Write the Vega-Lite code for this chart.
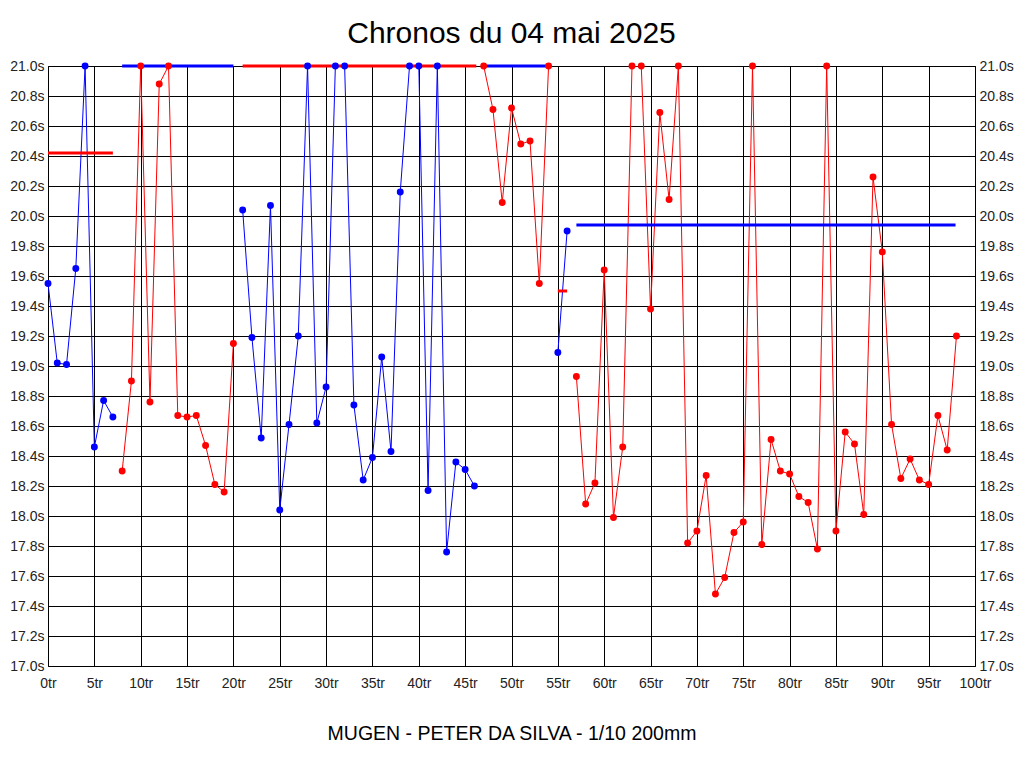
{
  "$schema": "https://vega.github.io/schema/vega-lite/v6.json",
  "width": 927,
  "height": 600,
  "autosize": {"type": "none"},
  "padding": {"left": 48, "top": 66, "right": 49, "bottom": 102},
  "background": "white",
  "title": {"text": "Chronos du 04 mai 2025", "font": "Liberation Sans", "fontSize": 30, "fontWeight": "normal", "color": "black", "offset": 10, "anchor": "middle"},
  "config": {
    "view": {"stroke": "black", "strokeWidth": 1},
    "axis": {"labelFont": "Liberation Sans", "labelFontSize": 14, "labelColor": "#222", "gridColor": "black", "gridOpacity": 1, "gridWidth": 1, "ticks": false, "domain": false, "labelFlush": false, "labelOverlap": false, "titleFont": "Liberation Sans", "titleFontWeight": "normal", "titleColor": "black"}
  },
  "datasets": {
    "laps": [
      {"lap": 0, "time": 19.55, "seg": 1, "color": "#0000ff"},
      {"lap": 1, "time": 19.02, "seg": 1, "color": "#0000ff"},
      {"lap": 2, "time": 19.01, "seg": 1, "color": "#0000ff"},
      {"lap": 3, "time": 19.65, "seg": 1, "color": "#0000ff"},
      {"lap": 4, "time": 21.0, "seg": 1, "color": "#0000ff"},
      {"lap": 5, "time": 18.46, "seg": 1, "color": "#0000ff"},
      {"lap": 6, "time": 18.77, "seg": 1, "color": "#0000ff"},
      {"lap": 7, "time": 18.66, "seg": 1, "color": "#0000ff"},
      {"lap": 8, "time": 18.30, "seg": 2, "color": "#ff0000"},
      {"lap": 9, "time": 18.90, "seg": 2, "color": "#ff0000"},
      {"lap": 10, "time": 21.0, "seg": 2, "color": "#ff0000"},
      {"lap": 11, "time": 18.76, "seg": 2, "color": "#ff0000"},
      {"lap": 12, "time": 20.88, "seg": 2, "color": "#ff0000"},
      {"lap": 13, "time": 21.0, "seg": 2, "color": "#ff0000"},
      {"lap": 14, "time": 18.67, "seg": 2, "color": "#ff0000"},
      {"lap": 15, "time": 18.66, "seg": 2, "color": "#ff0000"},
      {"lap": 16, "time": 18.67, "seg": 2, "color": "#ff0000"},
      {"lap": 17, "time": 18.47, "seg": 2, "color": "#ff0000"},
      {"lap": 18, "time": 18.21, "seg": 2, "color": "#ff0000"},
      {"lap": 19, "time": 18.16, "seg": 2, "color": "#ff0000"},
      {"lap": 20, "time": 19.15, "seg": 2, "color": "#ff0000"},
      {"lap": 21, "time": 20.04, "seg": 3, "color": "#0000ff"},
      {"lap": 22, "time": 19.19, "seg": 3, "color": "#0000ff"},
      {"lap": 23, "time": 18.52, "seg": 3, "color": "#0000ff"},
      {"lap": 24, "time": 20.07, "seg": 3, "color": "#0000ff"},
      {"lap": 25, "time": 18.04, "seg": 3, "color": "#0000ff"},
      {"lap": 26, "time": 18.61, "seg": 3, "color": "#0000ff"},
      {"lap": 27, "time": 19.20, "seg": 3, "color": "#0000ff"},
      {"lap": 28, "time": 21.0, "seg": 3, "color": "#0000ff"},
      {"lap": 29, "time": 18.62, "seg": 3, "color": "#0000ff"},
      {"lap": 30, "time": 18.86, "seg": 3, "color": "#0000ff"},
      {"lap": 31, "time": 21.0, "seg": 3, "color": "#0000ff"},
      {"lap": 32, "time": 21.0, "seg": 3, "color": "#0000ff"},
      {"lap": 33, "time": 18.74, "seg": 3, "color": "#0000ff"},
      {"lap": 34, "time": 18.24, "seg": 3, "color": "#0000ff"},
      {"lap": 35, "time": 18.39, "seg": 3, "color": "#0000ff"},
      {"lap": 36, "time": 19.06, "seg": 3, "color": "#0000ff"},
      {"lap": 37, "time": 18.43, "seg": 3, "color": "#0000ff"},
      {"lap": 38, "time": 20.16, "seg": 3, "color": "#0000ff"},
      {"lap": 39, "time": 21.0, "seg": 3, "color": "#0000ff"},
      {"lap": 40, "time": 21.0, "seg": 3, "color": "#0000ff"},
      {"lap": 41, "time": 18.17, "seg": 3, "color": "#0000ff"},
      {"lap": 42, "time": 21.0, "seg": 3, "color": "#0000ff"},
      {"lap": 43, "time": 17.76, "seg": 3, "color": "#0000ff"},
      {"lap": 44, "time": 18.36, "seg": 3, "color": "#0000ff"},
      {"lap": 45, "time": 18.31, "seg": 3, "color": "#0000ff"},
      {"lap": 46, "time": 18.20, "seg": 3, "color": "#0000ff"},
      {"lap": 47, "time": 21.0, "seg": 4, "color": "#ff0000"},
      {"lap": 48, "time": 20.71, "seg": 4, "color": "#ff0000"},
      {"lap": 49, "time": 20.09, "seg": 4, "color": "#ff0000"},
      {"lap": 50, "time": 20.72, "seg": 4, "color": "#ff0000"},
      {"lap": 51, "time": 20.48, "seg": 4, "color": "#ff0000"},
      {"lap": 52, "time": 20.50, "seg": 4, "color": "#ff0000"},
      {"lap": 53, "time": 19.55, "seg": 4, "color": "#ff0000"},
      {"lap": 54, "time": 21.0, "seg": 4, "color": "#ff0000"},
      {"lap": 55, "time": 19.09, "seg": 5, "color": "#0000ff"},
      {"lap": 56, "time": 19.90, "seg": 5, "color": "#0000ff"},
      {"lap": 57, "time": 18.93, "seg": 6, "color": "#ff0000"},
      {"lap": 58, "time": 18.08, "seg": 6, "color": "#ff0000"},
      {"lap": 59, "time": 18.22, "seg": 6, "color": "#ff0000"},
      {"lap": 60, "time": 19.64, "seg": 6, "color": "#ff0000"},
      {"lap": 61, "time": 17.99, "seg": 6, "color": "#ff0000"},
      {"lap": 62, "time": 18.46, "seg": 6, "color": "#ff0000"},
      {"lap": 63, "time": 21.0, "seg": 6, "color": "#ff0000"},
      {"lap": 64, "time": 21.0, "seg": 6, "color": "#ff0000"},
      {"lap": 65, "time": 19.38, "seg": 6, "color": "#ff0000"},
      {"lap": 66, "time": 20.69, "seg": 6, "color": "#ff0000"},
      {"lap": 67, "time": 20.11, "seg": 6, "color": "#ff0000"},
      {"lap": 68, "time": 21.0, "seg": 6, "color": "#ff0000"},
      {"lap": 69, "time": 17.82, "seg": 6, "color": "#ff0000"},
      {"lap": 70, "time": 17.90, "seg": 6, "color": "#ff0000"},
      {"lap": 71, "time": 18.27, "seg": 6, "color": "#ff0000"},
      {"lap": 72, "time": 17.48, "seg": 6, "color": "#ff0000"},
      {"lap": 73, "time": 17.59, "seg": 6, "color": "#ff0000"},
      {"lap": 74, "time": 17.89, "seg": 6, "color": "#ff0000"},
      {"lap": 75, "time": 17.96, "seg": 6, "color": "#ff0000"},
      {"lap": 76, "time": 21.0, "seg": 6, "color": "#ff0000"},
      {"lap": 77, "time": 17.81, "seg": 6, "color": "#ff0000"},
      {"lap": 78, "time": 18.51, "seg": 6, "color": "#ff0000"},
      {"lap": 79, "time": 18.30, "seg": 6, "color": "#ff0000"},
      {"lap": 80, "time": 18.28, "seg": 6, "color": "#ff0000"},
      {"lap": 81, "time": 18.13, "seg": 6, "color": "#ff0000"},
      {"lap": 82, "time": 18.09, "seg": 6, "color": "#ff0000"},
      {"lap": 83, "time": 17.78, "seg": 6, "color": "#ff0000"},
      {"lap": 84, "time": 21.0, "seg": 6, "color": "#ff0000"},
      {"lap": 85, "time": 17.90, "seg": 6, "color": "#ff0000"},
      {"lap": 86, "time": 18.56, "seg": 6, "color": "#ff0000"},
      {"lap": 87, "time": 18.48, "seg": 6, "color": "#ff0000"},
      {"lap": 88, "time": 18.01, "seg": 6, "color": "#ff0000"},
      {"lap": 89, "time": 20.26, "seg": 6, "color": "#ff0000"},
      {"lap": 90, "time": 19.76, "seg": 6, "color": "#ff0000"},
      {"lap": 91, "time": 18.61, "seg": 6, "color": "#ff0000"},
      {"lap": 92, "time": 18.25, "seg": 6, "color": "#ff0000"},
      {"lap": 93, "time": 18.38, "seg": 6, "color": "#ff0000"},
      {"lap": 94, "time": 18.24, "seg": 6, "color": "#ff0000"},
      {"lap": 95, "time": 18.21, "seg": 6, "color": "#ff0000"},
      {"lap": 96, "time": 18.67, "seg": 6, "color": "#ff0000"},
      {"lap": 97, "time": 18.44, "seg": 6, "color": "#ff0000"},
      {"lap": 98, "time": 19.20, "seg": 6, "color": "#ff0000"}
    ],
    "means": [
      {"start": 0, "end": 7, "value": 20.42, "color": "#ff0000"},
      {"start": 8, "end": 20, "value": 21.0, "color": "#0000ff"},
      {"start": 21, "end": 46.2, "value": 21.0, "color": "#ff0000"},
      {"start": 47, "end": 54, "value": 21.0, "color": "#0000ff"},
      {"start": 55, "end": 56, "value": 19.5, "color": "#ff0000"},
      {"start": 57, "end": 97.9, "value": 19.94, "color": "#0000ff"}
    ]
  },
  "resolve": {"axis": {"y": "independent"}},
  "layer": [
    {
      "data": {"name": "laps"},
      "mark": {"type": "line", "strokeWidth": 1, "clip": true},
      "encoding": {
        "x": {"field": "lap", "type": "quantitative", "scale": {"domain": [0, 100], "nice": false, "zero": false},
          "axis": {"values": [0,5,10,15,20,25,30,35,40,45,50,55,60,65,70,75,80,85,90,95,100], "labelExpr": "datum.value + 'tr'", "labelPadding": 10, "grid": true, "title": "MUGEN - PETER DA SILVA - 1/10 200mm", "titleFontSize": 19.5, "titlePadding": 34}},
        "y": {"field": "time", "type": "quantitative", "scale": {"domain": [17, 21], "nice": false, "zero": false},
          "axis": {"orient": "left", "values": [17,17.2,17.4,17.6,17.8,18,18.2,18.4,18.6,18.8,19,19.2,19.4,19.6,19.8,20,20.2,20.4,20.6,20.8,21], "labelExpr": "format(datum.value, '.1f') + 's'", "labelPadding": 4, "grid": true, "title": null}},
        "detail": {"field": "seg"},
        "color": {"field": "color", "type": "nominal", "scale": null}
      }
    },
    {
      "data": {"name": "means"},
      "mark": {"type": "rule", "strokeWidth": 3},
      "encoding": {
        "x": {"field": "start", "type": "quantitative"},
        "x2": {"field": "end"},
        "y": {"field": "value", "type": "quantitative",
          "axis": {"orient": "right", "values": [17,17.2,17.4,17.6,17.8,18,18.2,18.4,18.6,18.8,19,19.2,19.4,19.6,19.8,20,20.2,20.4,20.6,20.8,21], "labelExpr": "format(datum.value, '.1f') + 's'", "labelPadding": 4, "grid": false, "title": null}},
        "color": {"field": "color", "type": "nominal", "scale": null}
      }
    },
    {
      "data": {"name": "laps"},
      "mark": {"type": "point", "filled": true, "size": 48, "opacity": 1, "shape": "circle"},
      "encoding": {
        "x": {"field": "lap", "type": "quantitative"},
        "y": {"field": "time", "type": "quantitative", "axis": null},
        "color": {"field": "color", "type": "nominal", "scale": null}
      }
    }
  ]
}
